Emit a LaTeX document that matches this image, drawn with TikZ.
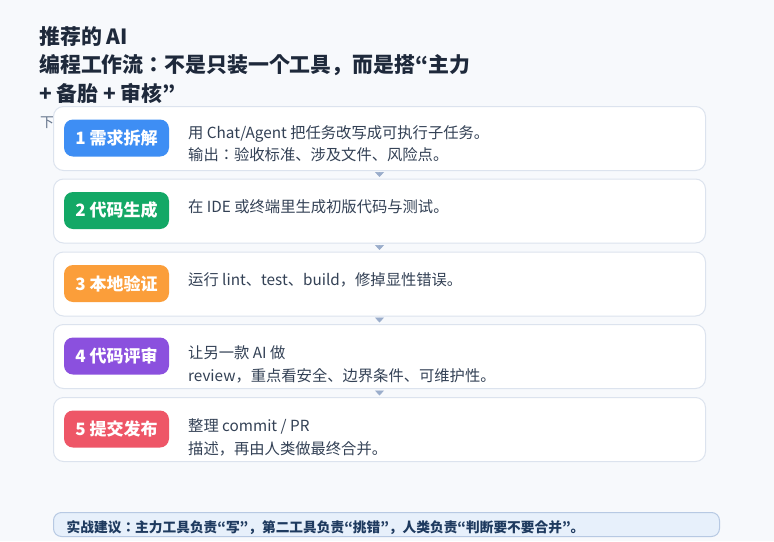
\documentclass[tikz,border=0pt]{standalone}
\usepackage{fontspec}
\setmainfont{Noto Sans CJK JP}
\usetikzlibrary{arrows.meta}
\definecolor{bgc}{HTML}{F7F9FC}
\definecolor{titlec}{HTML}{1E293B}
\definecolor{bodyc}{HTML}{334155}
\definecolor{mutedc}{HTML}{64748B}
\definecolor{cardline}{HTML}{DCE3EE}
\definecolor{arrowc}{HTML}{9AADCB}
\definecolor{bluec}{HTML}{3E8EF4}
\definecolor{greenc}{HTML}{13A866}
\definecolor{orangec}{HTML}{FB9E3A}
\definecolor{purplec}{HTML}{8B50DE}
\definecolor{redc}{HTML}{EE5667}
\definecolor{notefill}{HTML}{E7F0FB}
\definecolor{noteline}{HTML}{B7C9E3}
\definecolor{notetext}{HTML}{1E3A5F}
\tikzset{
  card/.style={draw=cardline, line width=1pt, fill=white, rounded corners=10pt,
    minimum width=652pt, minimum height=64pt, inner sep=0pt, anchor=north west},
  badge/.style={fill=#1, rounded corners=9pt, minimum width=105pt, minimum height=37pt,
    inner sep=0pt, text=white, font=\fontsize{17pt}{19pt}\selectfont\bfseries},
  body/.style={anchor=base west, inner sep=0pt, text=bodyc, font=\fontsize{15.3pt}{18pt}\selectfont},
  titletext/.style={anchor=base west, inner sep=0pt, text=titlec, font=\fontsize{20.9pt}{24pt}\selectfont\bfseries},
  flowarrow/.style={draw=arrowc, fill=arrowc, line width=0.6pt, shorten <=1.5pt, shorten >=1.5pt,
    -{Triangle[width=9pt,length=5pt]}},
  notebox/.style={draw=noteline, line width=1pt, fill=notefill, rounded corners=8pt,
    minimum width=666pt, minimum height=24pt, inner sep=0pt, anchor=north west},
}
\begin{document}
\begin{tikzpicture}[x=1pt,y=-1pt]
\fill[bgc] (0,0) rectangle (774,541);
\useasboundingbox (0,0) rectangle (774,541);

% title
\node[titletext] (ti1) at (39,44) {推荐的 AI};
\node[titletext] (ti2) at (39,72.5) {编程工作流：不是只装一个工具，而是搭“主力};
\node[titletext] (ti3) at (39,101) {+ 备胎 + 审核”};
\node[anchor=base west, inner sep=0pt, text=mutedc, font=\fontsize{14pt}{17pt}\selectfont] (sub) at (40,127) {下};

% cards
\node[card] (c1) at (53,106) {};
\node[card] (c2) at (53,178.5) {};
\node[card] (c3) at (53,251.5) {};
\node[card] (c4) at (53,324) {};
\node[card] (c5) at (53,397) {};

% badges
\node[badge=bluec] (b1) at (116.5,138) {1 需求拆解};
\node[badge=greenc] (b2) at (116.5,210.5) {2 代码生成};
\node[badge=orangec] (b3) at (116.5,283.5) {3 本地验证};
\node[badge=purplec] (b4) at (116.5,356) {4 代码评审};
\node[badge=redc] (b5) at (116.5,429) {5 提交发布};

% texts
\node[body] (t1a) at (188,138) {用 Chat/Agent 把任务改写成可执行子任务。};
\node[body] (t1b) at (188,160.5) {输出：验收标准、涉及文件、风险点。};
\node[body] (t2a) at (188,212) {在 IDE 或终端里生成初版代码与测试。};
\node[body] (t3a) at (188,285) {运行 lint、test、build，修掉显性错误。};
\node[body] (t4a) at (188,358) {让另一款 AI 做};
\node[body] (t4b) at (188,381) {review，重点看安全、边界条件、可维护性。};
\node[body] (t5a) at (188,431) {整理 commit / PR};
\node[body] (t5b) at (188,454) {描述，再由人类做最终合并。};

% arrows
\draw[flowarrow] (c1.south) -- (c2.north);
\draw[flowarrow] (c2.south) -- (c3.north);
\draw[flowarrow] (c3.south) -- (c4.north);
\draw[flowarrow] (c4.south) -- (c5.north);

% note
\node[notebox] (note) at (53,512) {};
\node[anchor=base west, inner sep=0pt, text=notetext, font=\fontsize{13.7pt}{16pt}\selectfont\bfseries] (notet) at (66.5,532) {实战建议：主力工具负责“写”，第二工具负责“挑错”，人类负责“判断要不要合并”。};
\end{tikzpicture}
\end{document}
